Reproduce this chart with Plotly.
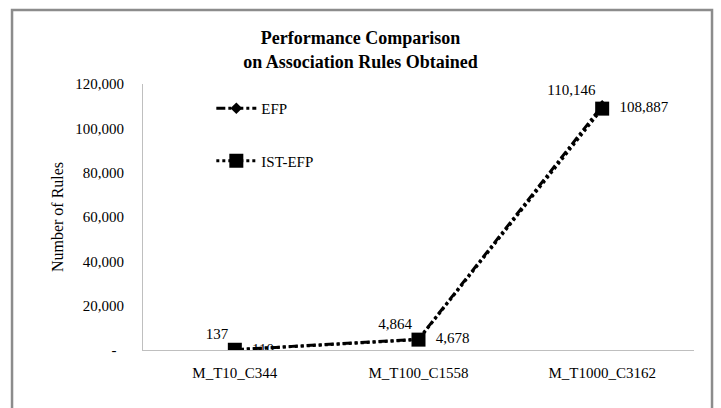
import plotly.graph_objects as go

categories = ["M_T10_C344", "M_T100_C1558", "M_T1000_C3162"]
efp = [137, 4864, 110146]
ist_efp = [110, 4678, 108887]
efp_labels = ["137", "4,864", "110,146"]
ist_labels = ["110", "4,678", "108,887"]
y_tickvals = [0, 20000, 40000, 60000, 80000, 100000, 120000]
y_ticktext = ["-\u00a0\u00a0", "20,000", "40,000", "60,000", "80,000", "100,000", "120,000"]

FONT = "Liberation Serif, Times New Roman, serif"
PAD = "\u00a0\u00a0"

fig = go.Figure()
fig.add_trace(go.Scatter(
    x=categories, y=efp, name="EFP", mode="lines+markers+text",
    line=dict(color="black", width=3, dash="9px,3px,3px,3px"),
    marker=dict(symbol="diamond", size=9, color="black"),
    text=efp_labels, textposition="top left",
    textfont=dict(family=FONT, size=15, color="black"),
    legendgroup="a",
))
fig.add_trace(go.Scatter(
    x=categories, y=ist_efp, name="IST-EFP", mode="lines+markers+text",
    line=dict(color="black", width=3, dash="dot"),
    marker=dict(symbol="square", size=14, color="black"),
    text=[PAD + t for t in ist_labels], textposition="middle right",
    textfont=dict(family=FONT, size=15, color="black"),
    legendgroup="b",
))

fig.update_layout(
    width=721, height=408,
    margin=dict(l=143, r=27, t=84, b=58),
    paper_bgcolor="white", plot_bgcolor="white",
    font=dict(family=FONT, size=15, color="black"),
    title=dict(
        text="<b>Performance Comparison<br>on Association Rules Obtained</b>",
        x=0.5, xanchor="center", xref="container",
        y=0.891, yanchor="top", yref="container",
        font=dict(family=FONT, size=18, color="black"),
    ),
    legend=dict(
        x=0.124, y=0.97, xanchor="left", yanchor="top",
        bgcolor="rgba(0,0,0,0)", tracegroupgap=30,
        font=dict(family=FONT, size=15, color="black"),
        itemwidth=40,
    ),
    xaxis=dict(
        type="category", showline=True, linecolor="#bfbfbf", linewidth=1,
        showgrid=False, ticks="", tickfont=dict(family=FONT, size=15),
        ticklabelstandoff=9,
        range=[-0.5, 2.5], fixedrange=True,
    ),
    yaxis=dict(
        range=[0, 120000], tickvals=y_tickvals, ticktext=y_ticktext,
        showline=True, linecolor="#bfbfbf", linewidth=1, showgrid=False,
        zeroline=False, ticks="", ticklabelstandoff=15,
        tickfont=dict(family=FONT, size=15),
        title=dict(text="Number of Rules", font=dict(family=FONT, size=16), standoff=7),
    ),
    shapes=[dict(
        type="rect", xref="paper", yref="paper",
        x0=-0.2377, x1=1.0327, y0=-0.24, y1=1.278,
        line=dict(color="#8c8c8c", width=2.5), fillcolor="rgba(0,0,0,0)", layer="above",
    )],
)

fig.write_html("out.html", config={"displayModeBar": False},
               post_script="document.body.style.margin='0';")
